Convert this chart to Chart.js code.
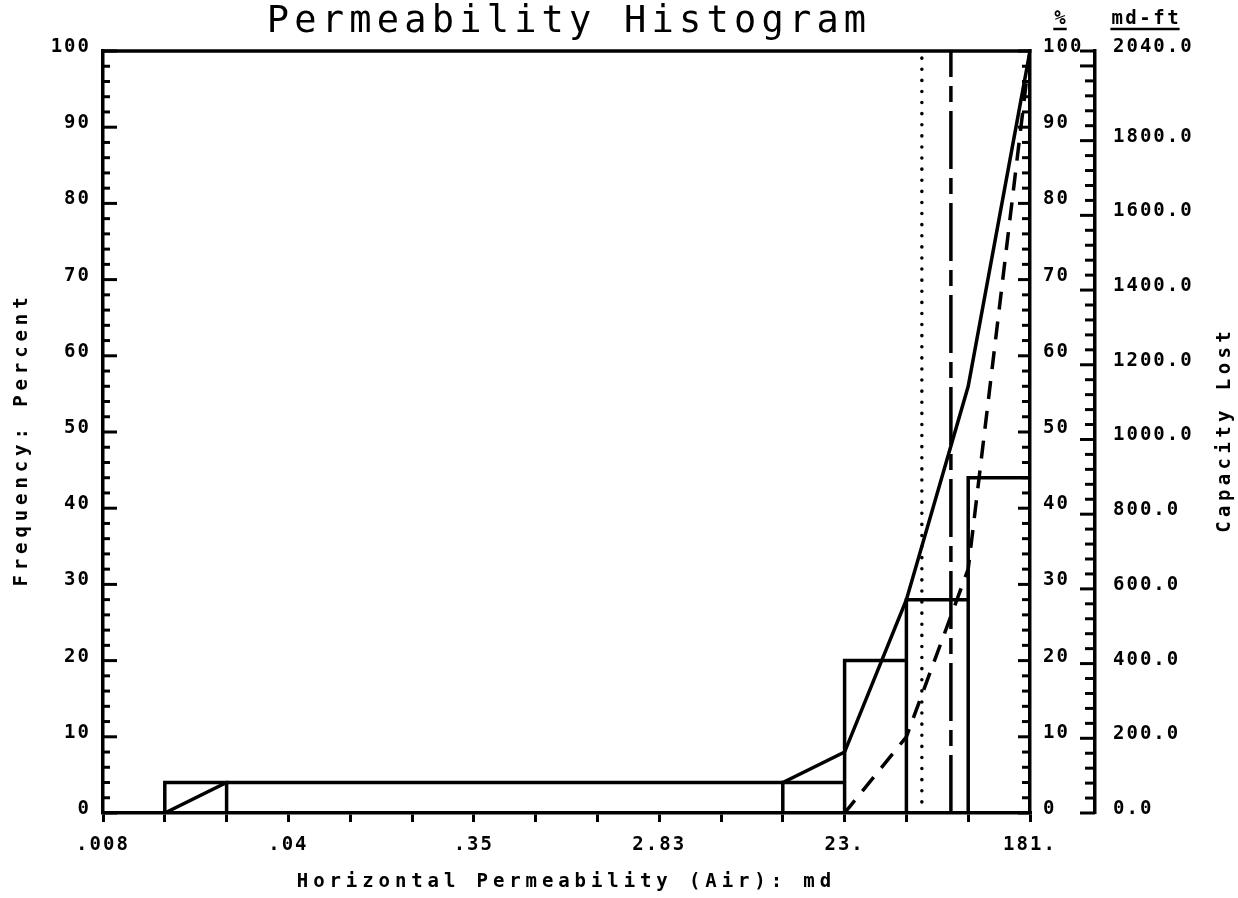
<!DOCTYPE html>
<html>
<head>
<meta charset="utf-8">
<title>Permeability Histogram</title>
<script src="https://cdn.jsdelivr.net/npm/chart.js@4.4.1/dist/chart.umd.min.js"></script>
<style>
  html, body { margin: 0; padding: 0; background: #fff; }
  #wrap { width: 1238px; height: 898px; }
</style>
</head>
<body>
<div id="wrap"><canvas id="chart" width="1238" height="898"></canvas></div>
<script>
// =========================
// DATA
// =========================
// x runs over permeability classes 0..15, a label on every 3rd boundary
const classTickLabels = [".008", ".04", ".35", "2.83", "23.", "181."];

// histogram bins: class edges and frequency (%)
const binLeft  = [1, 11, 12, 13, 14];
const binRight = [2, 12, 13, 14, 15];
const binFreq  = [4, 4, 20, 28, 44];

// cumulative frequency (%)
const cumX    = [0, 1, 2, 11, 12, 13, 14, 15];
const cumFreq = [0, 0, 4, 4, 8, 28, 56, 100];

// capacity lost (%)
const capX    = [11, 12, 13, 14, 15];
const capLost = [0, 0, 10, 32, 100];

// vertical marker lines
const dottedAt  = 13.25;
const dashDotAt = 13.72;

// right hand axes
const pctTicks  = [0, 10, 20, 30, 40, 50, 60, 70, 80, 90, 100];
const mdftTicks = [0, 200, 400, 600, 800, 1000, 1200, 1400, 1600, 1800, 2040];
const MDFT_MAX  = 2040;

const FONT = "'DejaVu Sans Mono', 'Liberation Mono', monospace";
const INK = "#000";
const LW = 3.5;

// =========================
// DATASETS
// =========================
function histOutline() {
  const pts = [];
  binLeft.forEach((l, i) => {
    pts.push({ x: l, y: 0 }, { x: l, y: binFreq[i] },
             { x: binRight[i], y: binFreq[i] }, { x: binRight[i], y: 0 },
             { x: binRight[i], y: null });
  });
  return pts;
}

const datasets = [
  {
    label: "Frequency",
    data: histOutline(),
    yAxisID: "y",
    borderColor: INK,
    borderWidth: LW,
    spanGaps: false,
    order: 4
  },
  {
    label: "Cumulative",
    data: cumX.map((x, i) => ({ x, y: cumFreq[i] })),
    yAxisID: "y",
    borderColor: INK,
    borderWidth: LW,
    order: 3
  },
  {
    label: "Capacity Lost",
    data: capX.map((x, i) => ({ x, y: capLost[i] })),
    yAxisID: "yPct",
    borderColor: INK,
    borderWidth: LW,
    borderDash: [18, 12],
    order: 2
  },
  {
    label: "dotted",
    data: [{ x: dottedAt, y: 0 }, { x: dottedAt, y: 100 }],
    yAxisID: "y",
    borderColor: INK,
    borderWidth: 3.5,
    borderCapStyle: "round",
    borderDash: [0.1, 11],
    order: 1
  },
  {
    label: "dash-dot",
    data: [{ x: dashDotAt, y: 0 }, { x: dashDotAt, y: 100 }],
    yAxisID: "y",
    borderColor: INK,
    borderWidth: LW,
    borderDash: [58, 9, 16, 9],
    order: 1
  }
];

// =========================
// FRAME, INNER TICKS, TEXTS
// =========================
function seg(ctx, x1, y1, x2, y2) {
  ctx.beginPath();
  ctx.moveTo(x1, y1);
  ctx.lineTo(x2, y2);
  ctx.stroke();
}

function spacedText(ctx, str, cx, cy, font, spacing, angle) {
  ctx.save();
  ctx.translate(cx, cy);
  ctx.rotate(angle || 0);
  ctx.font = font;
  ctx.letterSpacing = spacing + "px";
  const w = ctx.measureText(str).width - spacing;
  ctx.textAlign = "left";
  ctx.textBaseline = "middle";
  ctx.fillStyle = INK;
  ctx.fillText(str, -w / 2, 0);
  ctx.restore();
  return w;
}

const framePlugin = {
  id: "frame",
  beforeDraw(chart) {
    chart.ctx.letterSpacing = "2px";
  },
  afterDraw(chart) {
    const { ctx, chartArea: a, scales } = chart;
    ctx.save();
    ctx.letterSpacing = "0px";
    ctx.strokeStyle = INK;
    ctx.lineWidth = 3;
    ctx.lineCap = "butt";

    // top edge of the plot box
    ctx.lineWidth = LW;
    seg(ctx, a.left - 1.5, a.top, a.right + 1.5, a.top);
    ctx.lineWidth = 3;

    // left axis: ticks point inward
    for (let v = 0; v <= 100; v += 2) {
      const y = scales.y.getPixelForValue(v);
      seg(ctx, a.left, y, a.left + (v % 10 === 0 ? 14 : 7), y);
    }
    // % axis: ticks point inward
    for (let v = 0; v <= 100; v += 2) {
      const y = scales.yPct.getPixelForValue(v);
      seg(ctx, a.right - (v % 10 === 0 ? 12 : 8), y, a.right, y);
    }
    // md-ft axis: ticks on the left of its line
    const md = scales.yMd;
    for (let v = 0; v <= MDFT_MAX; v += 40) {
      const y = md.getPixelForValue(v);
      const len = (v % 200 === 0 || v === MDFT_MAX) ? 15 : 10;
      seg(ctx, md.left - len, y, md.left, y);
    }

    // texts
    const cx = (a.left + a.right) / 2;
    spacedText(ctx, "Permeability Histogram", cx, 22, `37px ${FONT}`, 5.2);
    spacedText(ctx, "Horizontal Permeability (Air): md", 564, 882, `bold 19px ${FONT}`, 4.9);
    spacedText(ctx, "Frequency: Percent", 22, (a.top + a.bottom) / 2 + 10, `bold 19px ${FONT}`, 4.9, -Math.PI / 2);
    spacedText(ctx, "Capacity Lost", 1225, 432, `bold 19px ${FONT}`, 4.4, -Math.PI / 2);

    // right axis headers, underlined
    ctx.lineWidth = 2.5;
    const wp = spacedText(ctx, "%", 1060, 19, `bold 19px ${FONT}`, 2);
    seg(ctx, 1060 - wp / 2 - 1, 29, 1060 + wp / 2 + 1, 29);
    const wm = spacedText(ctx, "md-ft", 1145, 19, `bold 19px ${FONT}`, 2.5);
    seg(ctx, 1145 - wm / 2 - 1, 29, 1145 + wm / 2 + 1, 29);

    ctx.restore();
    ctx.letterSpacing = "0px";
  }
};

// =========================
// CHART
// =========================
Chart.defaults.font.family = FONT;
Chart.defaults.color = INK;

const tickFont = { family: FONT, size: 19, weight: "bold" };

new Chart(document.getElementById("chart").getContext("2d"), {
  type: "line",
  data: { datasets },
  plugins: [framePlugin],
  options: {
    responsive: false,
    animation: false,
    layout: { padding: { top: 51, left: 0, right: 0, bottom: 0 } },
    elements: {
      point: { radius: 0, hitRadius: 0, hoverRadius: 0 },
      line: { tension: 0, fill: false }
    },
    plugins: {
      legend: { display: false },
      tooltip: { enabled: false },
      title: { display: false }
    },
    scales: {
      x: {
        type: "linear",
        position: "bottom",
        min: 0,
        max: 15,
        afterFit: (s) => { s.height = 85; },
        ticks: {
          stepSize: 1,
          autoSkip: false,
          maxRotation: 0,
          padding: 12,
          font: tickFont,
          callback: (v) => (v % 3 === 0 ? classTickLabels[v / 3] : "")
        },
        grid: {
          drawOnChartArea: false,
          drawTicks: true,
          tickLength: 9,
          color: INK,
          lineWidth: 3
        },
        border: { display: true, color: INK, width: LW }
      },
      y: {
        type: "linear",
        position: "left",
        min: 0,
        max: 100,
        afterFit: (s) => { s.width = 103; },
        ticks: { stepSize: 10, padding: 4, labelOffset: -4, font: tickFont },
        grid: { display: false },
        border: { display: true, color: INK, width: LW }
      },
      yPct: {
        type: "linear",
        position: "right",
        weight: 0,
        min: 0,
        max: 100,
        afterFit: (s) => { s.width = 65; },
        afterBuildTicks: (s) => { s.ticks = pctTicks.map((value) => ({ value })); },
        ticks: { padding: 5, labelOffset: -4, font: tickFont },
        grid: { display: false },
        border: { display: true, color: INK, width: LW }
      },
      yMd: {
        type: "linear",
        position: "right",
        weight: 1,
        min: 0,
        max: MDFT_MAX,
        afterFit: (s) => { s.width = 1238 - 1095; },
        afterBuildTicks: (s) => { s.ticks = mdftTicks.map((value) => ({ value })); },
        ticks: {
          padding: 10,
          labelOffset: -4,
          font: tickFont,
          callback: (v) => v.toFixed(1)
        },
        grid: { display: false },
        border: { display: true, color: INK, width: LW }
      }
    }
  }
});
</script>
</body>
</html>
